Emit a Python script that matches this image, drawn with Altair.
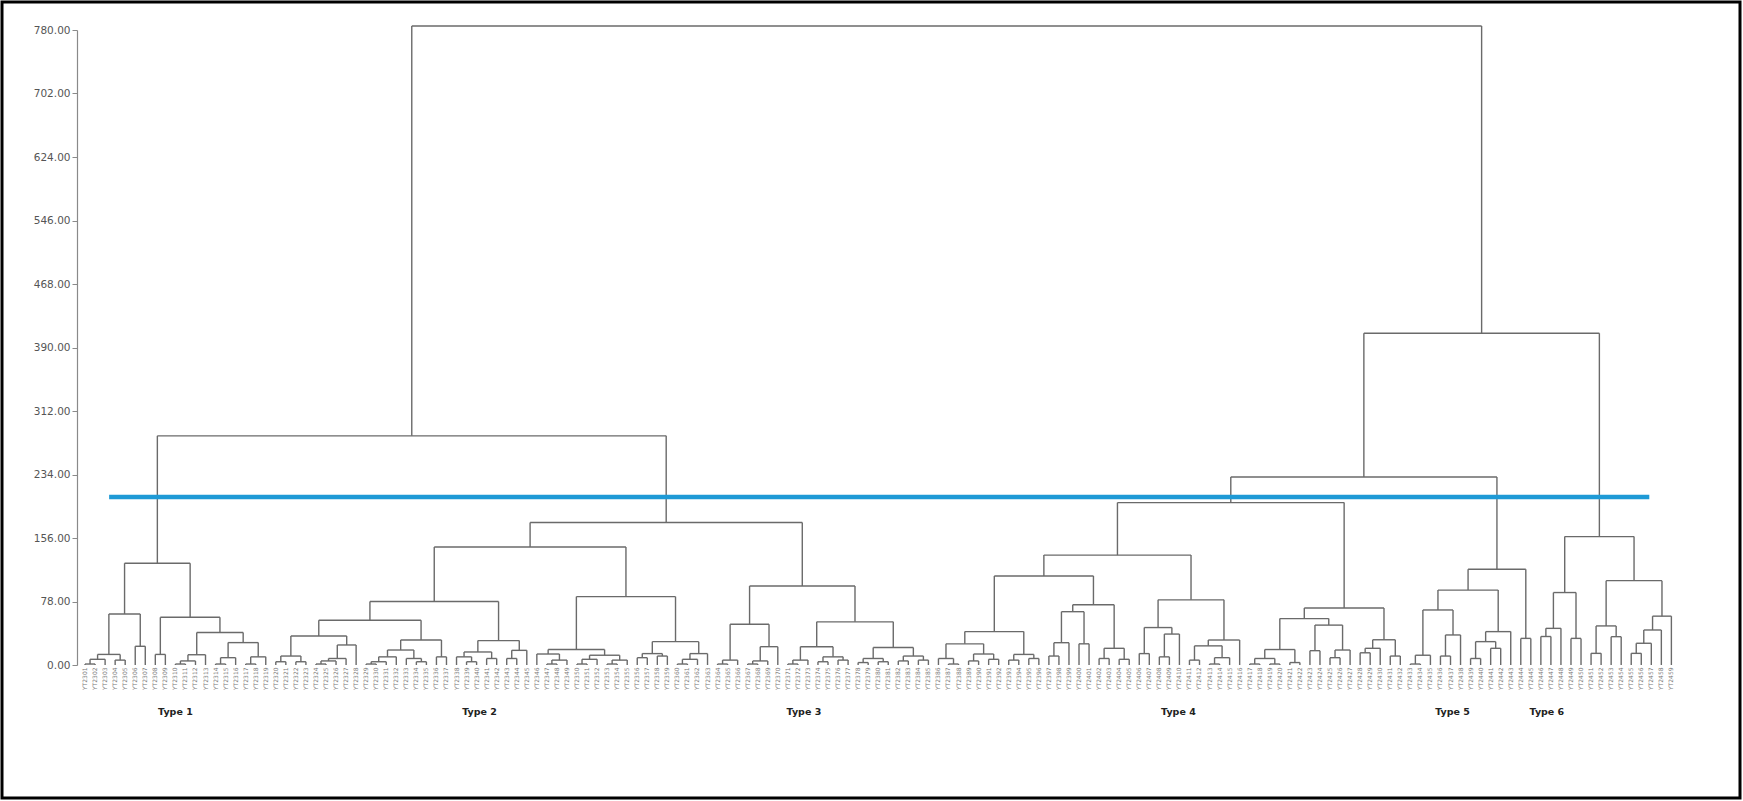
import altair as alt
import pandas as pd

# ---------------- data ----------------
# Dendrogram as nested nodes [height, left, right]; an integer k is a run of k
# samples that join at (almost) zero distance (k = 1 is a single sample).
TINY = [1.2, 2.4, 3.6, 4.8]

TYPE1 = [125,
         [62.7, [13, [7, 2, 1], [6, 1, 1]], [23, 1, 1]],
         [58.6, [13, 1, 1],
                [40, [12.6, [5, 2, 1], 1],
                     [27.5, [9, 2, 1], [10, 2, 1]]]]]

TYPE2 = [145,
         [78,
          [55,
           [35.7, [11, [4, 1, 1], [4, 1, 1]], [24.6, [8, [5, 2, 1], 1], 1]],
           [30.7, [18.4, [10, [4, 2, 1], 1], [8, 1, [4, 1, 1]]], [10, 1, 1]]],
          [30, [16, [10, 1, [4, 1, 1]], [8, 1, 1]], [18, [8, 1, 1], 1]]],
         [84,
          [19, [13.5, 1, [6, 2, 1]], [12, [7, 2, 1], [6, 2, 1]]],
          [28.7, [14, [9, 1, 1], [11, 1, 1]], [14, [7, 2, 1], 1]]]]

TYPE3 = [97,
         [50, [6, 2, 1], [22.5, [5, 2, 1], 1]],
         [53, [22.5, [6, 2, 1], [10, [4, 1, 1], [6, 1, 1]]],
              [21.5, [8, [3, 1, 1], [4, 1, 1]], [11, [5, 1, 1], [6, 1, 1]]]]]

TYPE4 = [199.5,
         [135,
          [109.4,
           [41, [26, [8, 1, 2], [13.5, [5, 1, 1], [7, 1, 1]]], [13, [6, 1, 1], [8, 1, 1]]],
           [74, [65.5, [27.4, [11, 1, 1], 1], [26, 1, 1]],
                [20.5, [8, 1, 1], [7, 1, 1]]]],
          [80,
           [46, [14, 1, 1], [38, [10, 1, 1], 1]],
           [30.7, [23.5, [6, 1, 1], [9, 2, 1]], 1]]],
         [70,
          [57, [19, [8, 2, 2], [3, 1, 1]], [49, [17.6, 1, 1], [18.4, [9, 1, 1], 1]]],
          [31, [20.5, [15, 1, 1], 1], [11, 1, 1]]]]

TYPE5 = [117.6,
         [92, [67.6, [12, 2, 1], [36.9, [11, 1, 1], 1]],
              [41, [28.7, [8, 1, 1], [20.5, 1, 1]], 1]],
         [32.7, 1, 1]]

TYPE6 = [157.7,
         [89, [45, [35, 1, 1], 1], [32.7, 1, 1]],
         [103.6, [48, [14.3, 1, 1], [34.8, 1, 1]],
                 [60, [43, [26.7, [14.3, 1, 1], 1], 1], 1]]]

TREE = [785,
        [281.5, TYPE1, [175, TYPE2, TYPE3]],
        [407.5, [231, TYPE4, TYPE5], TYPE6]]

TYPE_NAMES = ["Type 1", "Type 2", "Type 3", "Type 4", "Type 5", "Type 6"]
TYPE_LABEL_POS = [9.0, 39.3, 71.6, 108.9, 136.2, 145.6]   # in sample positions
TYPE_LABEL_Y = -58

CUT_LEVEL = 206.5
CUT_FROM, CUT_TO = 2.4, 155.8

Y_TICKS = [0, 78, 156, 234, 312, 390, 468, 546, 624, 702, 780]

# ---------------- build the dendrogram geometry ----------------
def expand(node):
    if isinstance(node, int):
        t = "leaf"
        for j in range(node - 1):
            t = [TINY[j], t, "leaf"]
        return t
    h, a, b = node
    return [h, expand(a), expand(b)]

segs = []
counter = [0]

def layout(node):
    if node == "leaf":
        x = counter[0]
        counter[0] += 1
        return float(x), 0.0
    h, a, b = node
    xa, ha = layout(a)
    xb, hb = layout(b)
    segs.append({"x": xa, "x2": xa, "y": ha, "y2": h})
    segs.append({"x": xb, "x2": xb, "y": hb, "y2": h})
    segs.append({"x": xa, "x2": xb, "y": h, "y2": h})
    return (xa + xb) / 2, h

layout(expand(TREE))
n_leaves = counter[0]
seg_df = pd.DataFrame(segs)

LEAF_LABELS = [f"YT{2301 + i}" for i in range(n_leaves)]
leaf_df = pd.DataFrame({"x": list(range(n_leaves)), "y": [-3.0] * n_leaves, "label": LEAF_LABELS})
type_df = pd.DataFrame({"x": TYPE_LABEL_POS, "y": [TYPE_LABEL_Y] * 6, "label": TYPE_NAMES})
cut_df = pd.DataFrame({"x": [CUT_FROM], "x2": [CUT_TO], "y": [CUT_LEVEL]})

xs = alt.Scale(domain=[-0.8, 160.85], nice=False, zero=False)
ys = alt.Scale(domain=[0, 780], nice=False, zero=False)

yaxis = alt.Axis(values=Y_TICKS, format=".2f", title=None, grid=False,
                 labelFont="DejaVu Sans", labelFontSize=10.5, labelColor="#555555",
                 domainColor="#8a8a8a", tickColor="#8a8a8a", tickSize=5, labelPadding=2,
                 domainWidth=1.2)

lines = alt.Chart(seg_df).mark_rule(color="#6a6a6a", strokeWidth=1.4).encode(
    x=alt.X("x:Q", scale=xs, axis=None),
    x2="x2:Q",
    y=alt.Y("y:Q", scale=ys, axis=yaxis),
    y2="y2:Q",
)

cut = alt.Chart(cut_df).mark_rule(color="#1E9AD6", strokeWidth=4.5).encode(
    x=alt.X("x:Q", scale=xs, axis=None), x2="x2:Q",
    y=alt.Y("y:Q", scale=ys),
)

leaf_text = alt.Chart(leaf_df).mark_text(
    angle=270, align="right", baseline="middle", fontSize=6, font="DejaVu Sans", color="#777777"
).encode(x=alt.X("x:Q", scale=xs, axis=None), y=alt.Y("y:Q", scale=ys), text="label:N")

type_text = alt.Chart(type_df).mark_text(
    align="center", baseline="middle", fontSize=9.5, fontWeight="bold", font="DejaVu Sans", color="#222222"
).encode(x=alt.X("x:Q", scale=xs, axis=None), y=alt.Y("y:Q", scale=ys), text="label:N")

frame = alt.Chart(pd.DataFrame({"a": [0]})).mark_rect(
    filled=False, stroke="black", strokeWidth=3
).encode(x=alt.value(-75), x2=alt.value(1663), y=alt.value(-28), y2=alt.value(768))

chart = alt.layer(lines, cut, leaf_text, type_text, frame).properties(
    width=1623, height=635,
    autosize=alt.AutoSizeParams(type="none"),
    padding={"left": 77, "top": 30, "right": 43, "bottom": 136},
    background="white",
).configure_view(stroke=None)

chart.save("out.html", embed_options={"renderer": "svg", "actions": False})
